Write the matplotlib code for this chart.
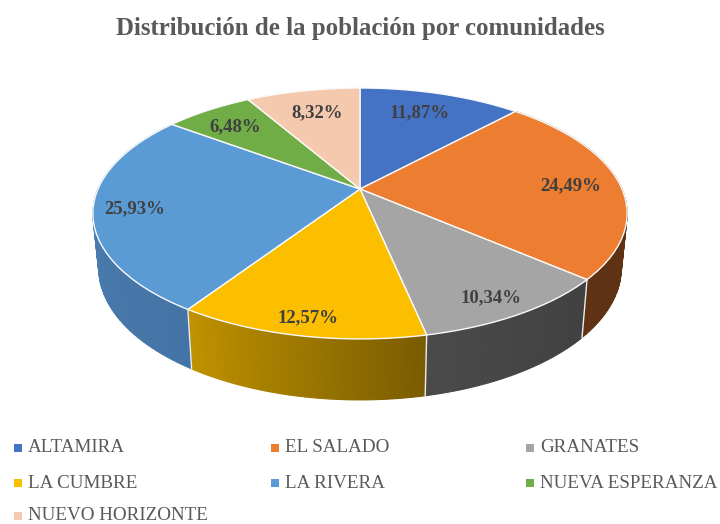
import numpy as np
import matplotlib
matplotlib.use("Agg")
import matplotlib.pyplot as plt
from matplotlib.path import Path
from matplotlib.transforms import Transform

names = ["ALTAMIRA", "EL SALADO", "GRANATES", "LA CUMBRE", "LA RIVERA", "NUEVA ESPERANZA", "NUEVO HORIZONTE"]
values = [11.87, 24.49, 10.34, 12.57, 25.93, 6.48, 8.32]
colors = ["#4472C4", "#ED7D31", "#A5A5A5", "#FBBF00", "#5B9BD5", "#70AD47", "#F5C9AE"]
# side wall colours, first and last end of each slice
wall_start = [None, (95, 50, 20), (64, 64, 64), (122, 92, 0), (68, 115, 165), None, None]
wall_end = [None, (95, 50, 20), (74, 74, 74), (192, 146, 0), (78, 132, 182), None, None]
# label centres in pixels
label_xy = [(420, 113), (571, 186), (491, 298), (308, 318), (135, 209), (235, 127), (317, 113)]

R = 300.0
CX, CY = 360.0, 189.0
SX, SY, K = 262.0, 120.7, 0.195


def project(u, v):
    # tilted disc seen in perspective
    w = 1 + K * v
    return CX + SX * u / w, CY - SY * v / w


def lower(x, y):
    # same rim, on the bottom face of the pie
    return CX + 0.978 * (x - CX), 1.05 * y + 44


class Tilt(Transform):
    input_dims = 2
    output_dims = 2
    is_separable = False

    def transform_non_affine(self, values):
        values = np.asarray(values)
        x, y = project(values[:, 0] / R, values[:, 1] / R)
        return np.column_stack([x, y])

    def transform_path_non_affine(self, path):
        poly = path.to_polygons()[0]
        return Path(self.transform_non_affine(poly), closed=True)


fig = plt.figure(figsize=(7.2, 5.24), dpi=100)
ax = fig.add_axes([0, 0, 1, 1])

wedges, _ = ax.pie(values, colors=colors, radius=R, startangle=90, counterclock=False,
                   wedgeprops={"edgecolor": "#FAFAFA", "linewidth": 1.0, "zorder": 5})
tilt = Tilt() + ax.transData
for w in wedges:
    w.set_transform(tilt)

# walls, narrow strips so the shading runs along the rim
edges = np.cumsum([0] + values) / sum(values) * 2 * np.pi
for i in range(len(values)):
    if wall_start[i] is None:
        continue
    t = np.linspace(edges[i], edges[i + 1], 61)
    x, y = project(np.sin(t), np.cos(t))
    xb, yb = lower(x, y)
    for k in range(60):
        f = k / 59
        c = (np.array(wall_start[i]) * (1 - f) + np.array(wall_end[i]) * f) / 255
        ax.fill([x[k], x[k + 1], xb[k + 1], xb[k]], [y[k], y[k + 1], yb[k + 1], yb[k]],
                color=c, lw=0.8, zorder=2)
    # seam on the right side of the slice
    if i > 1:
        ax.plot([x[0], xb[0]], [y[0], yb[0]], color="#EDEDED", lw=1.0, zorder=3)

for v, (lx, ly) in zip(values, label_xy):
    ax.text(lx, ly, f"{v:.2f}".replace(".", ",") + "%", ha="center", va="center", color="#404040",
            fontsize=13.5, fontweight="bold", family="Liberation Serif", zorder=6)

ax.text(360, 29, "Distribución de la población por comunidades", ha="center", va="center",
        color="#595959", fontsize=17.9, fontweight="bold", family="Liberation Serif")

# legend
col_x = [18, 275, 530]
row_y = [448, 483, 516]
for i, name in enumerate(names):
    lx = col_x[i % 3]
    ly = row_y[i // 3]
    ax.scatter([lx], [ly], marker="s", s=28, color=colors[i], linewidths=0)
    ax.text(lx + 10, ly, name, ha="left", va="center", color="#595959", fontsize=13.7,
            family="Liberation Serif")

ax.set_aspect("auto")
ax.set_xlim(0, 720)
ax.set_ylim(524, 0)
ax.axis("off")
fig.savefig("out.png", dpi=100, facecolor="white")
